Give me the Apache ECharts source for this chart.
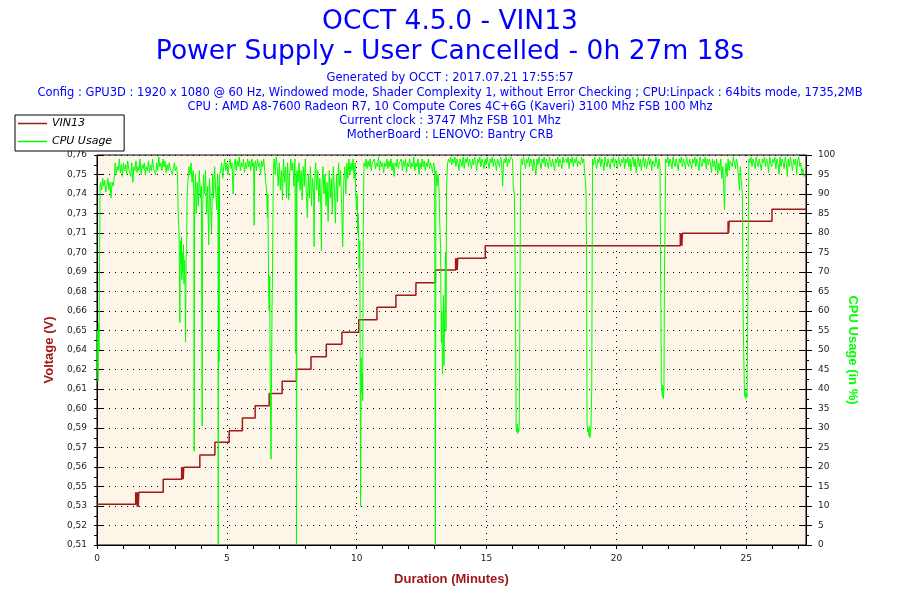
<!DOCTYPE html>
<html><head><meta charset="utf-8">
<script src="https://cdn.jsdelivr.net/npm/echarts@6/dist/echarts.min.js"></script>
<style>html,body{margin:0;padding:0;background:#fff}#c{width:900px;height:600px}</style>
</head><body><div id="c"></div>
<script>
// ---- texts ----
const mainTitle = 'OCCT 4.5.0 - VIN13';
const subTitle = 'Power Supply - User Cancelled - 0h 27m 18s';
const infoLines = [
  'Generated by OCCT : 2017.07.21 17:55:57',
  'Config : GPU3D : 1920 x 1080 @ 60 Hz, Windowed mode, Shader Complexity 1, without Error Checking ; CPU:Linpack : 64bits mode, 1735,2MB',
  'CPU : AMD A8-7600 Radeon R7, 10 Compute Cores 4C+6G (Kaveri) 3100 Mhz FSB 100 Mhz',
  'Current clock : 3747 Mhz FSB 101 Mhz',
  'MotherBoard : LENOVO: Bantry CRB'
];
const seriesNames = ['VIN13', 'CPU Usage'];
const xTickLabels = [0, 5, 10, 15, 20, 25];
const durationMax = 27.3;           // minutes
const voltMin = 0.5088, voltMax = 0.7648, voltLabelStep = 0.0128;
const cpuMin = 0, cpuMax = 100, cpuStep = 5;

// ---- VIN13 (minutes, volts), step series: level starts at t ----
const vin13 = [
  [0, 0.5355],
  [1.49, 0.5434], [1.51, 0.5355], [1.53, 0.5434], [1.55, 0.5340], [1.57, 0.5434], [1.59, 0.5340], [1.61, 0.5434],
  [2.55, 0.5519],
  [3.26, 0.5598], [3.28, 0.5519], [3.30, 0.5598], [3.32, 0.5519], [3.34, 0.5598],
  [3.96, 0.5679],
  [4.54, 0.5762],
  [5.09, 0.5838],
  [5.60, 0.5922],
  [6.09, 0.6002],
  [6.63, 0.6082],
  [7.13, 0.6163],
  [7.68, 0.6241],
  [8.24, 0.6324],
  [8.83, 0.6405],
  [9.43, 0.6484],
  [10.08, 0.6567],
  [10.78, 0.6648],
  [11.51, 0.6727],
  [12.28, 0.6810],
  [13.03, 0.6893],
  [13.81, 0.6970], [13.83, 0.6893], [13.85, 0.6970], [13.87, 0.6893], [13.89, 0.6970],
  [14.95, 0.7053],
  [22.46, 0.7134], [22.48, 0.7053], [22.50, 0.7134], [22.52, 0.7053], [22.54, 0.7134],
  [24.30, 0.7213], [24.32, 0.7134], [24.34, 0.7213],
  [25.99, 0.7292],
  [27.3, 0.7292]
];

// ---- CPU usage (minutes, %) ----
const cpuUsage = [
  [0,45],[0.02,55],[0.04,42],[0.06,57],[0.08,50],[0.1,75],[0.12,92],
  [0.14,93],[0.18,91],[0.22,94],[0.26,92],[0.3,93.5],[0.34,90.5],[0.38,92],[0.42,94],[0.46,91],[0.5,93],[0.54,89],[0.58,93],[0.62,92],[0.66,94],
  [0.7,98],[0.74,95],[0.78,97],[0.82,96],[0.86,99],[0.9,95.5],[0.94,97.5],[0.98,94.5],[1.02,98],[1.06,96],[1.1,97.5],[1.14,95],[1.18,98.5],[1.22,96.5],[1.26,97],[1.3,94.5],[1.34,98],[1.38,93],[1.42,97],[1.46,96],[1.5,98.5],[1.54,95.5],[1.58,97],[1.62,96],[1.66,99],[1.7,95],[1.74,97.5],[1.78,96.5],[1.82,98],[1.86,95],[1.9,97],[1.94,96],[1.98,98.5],[2.02,95.5],[2.06,97.5],[2.1,96],[2.14,99],[2.18,96.5],[2.22,97],[2.26,95],[2.3,98],[2.34,96],[2.38,99.5],[2.42,97],[2.46,98],[2.5,96],[2.54,99],[2.58,97],[2.62,98.5],[2.66,95.5],[2.7,97.5],[2.74,96],[2.78,98],[2.82,96.5],[2.86,97],[2.9,95],[2.94,96.5],[2.98,98],[3.02,96],[3.06,97],
  [3.1,95],[3.13,84],[3.16,80],[3.19,57],[3.21,78],[3.23,72],[3.25,79],[3.27,68],[3.29,75],[3.31,70],[3.33,77],[3.35,67],[3.37,73],[3.39,69],[3.41,52],[3.43,74],[3.45,76],[3.47,90],[3.5,93],[3.54,97],
  [3.58,95],[3.62,98],[3.66,93],[3.7,96],[3.73,90],[3.74,24],[3.76,88],[3.79,95],[3.82,85],[3.86,93],[3.9,87],[3.94,96],[3.98,89],[4.02,92],[4.05,30.5],[4.07,86],[4.1,95],
  [4.14,90],[4.18,96],[4.22,85],[4.26,92],[4.3,77],[4.33,94],[4.37,88],[4.41,80],[4.45,95],[4.49,89],[4.53,97],[4.57,91],[4.61,86],[4.64,95],[4.66,92],[4.67,0],[4.685,92],[4.7,47],[4.72,95],
  [4.76,96],[4.8,98],[4.84,94],[4.88,97],[4.92,99],[4.96,96],[5.0,98],[5.04,95],[5.08,97.5],[5.12,99],[5.16,96.5],[5.2,98],[5.24,90],[5.28,97],[5.32,99],[5.36,96],[5.4,98.5],[5.44,97],[5.48,99.5],[5.52,96],[5.56,98],[5.6,97],[5.64,99],[5.68,95.5],[5.72,98],[5.76,96.5],[5.8,99],[5.84,97],[5.88,98.5],[5.92,96],[5.96,99],[6.0,97],[6.03,98],[6.05,82],[6.07,97],[6.1,98.5],[6.14,96],[6.18,99],[6.22,97],[6.26,98],[6.3,95],[6.34,98.5],[6.38,97],[6.42,99],[6.46,96],[6.5,93],
  [6.53,91],[6.56,84],[6.58,90],[6.61,65],[6.63,60],[6.65,69],[6.67,42],[6.7,22],[6.72,43],[6.74,61],[6.76,71],[6.79,96],
  [6.82,99],[6.86,95],[6.9,99.5],[6.94,97],[6.98,92],[7.02,98],[7.06,91],[7.1,96],[7.14,88.5],[7.18,99],[7.22,93],[7.26,97],[7.3,89],[7.34,98],[7.38,88.5],[7.42,95],[7.46,99],[7.5,96],[7.54,98],[7.58,92],[7.62,99],[7.66,49],[7.67,95],[7.68,0],[7.7,96],
  [7.74,93],[7.78,98],[7.82,91],[7.86,96],[7.9,88.5],[7.94,97],[7.98,92],[8.02,99],[8.06,90],[8.1,84],[8.14,95],[8.18,89],[8.22,97],[8.26,87],[8.3,94],[8.34,90],[8.36,76.5],[8.38,93],[8.42,98],[8.46,91],[8.5,96],[8.54,88],[8.58,94],[8.62,86],[8.64,75.5],[8.66,92],[8.7,97],[8.74,90],[8.78,95],[8.82,87],[8.86,93],[8.9,83],[8.94,96],[8.98,89],[9.02,94],[9.06,85],[9.1,97],[9.14,91],[9.18,82.5],[9.22,95],[9.26,88],[9.3,98],[9.34,92],[9.38,96],[9.42,87],[9.46,76.5],[9.5,93],[9.54,97],[9.58,90],[9.62,98],[9.66,94],[9.7,99],[9.74,95],[9.78,98],[9.82,96],[9.86,99],[9.9,94],
  [9.94,98],[9.96,91],[9.99,86],[10.02,90],[10.04,80],[10.06,85],[10.09,71],[10.12,78],[10.15,10],[10.17,48],[10.19,39],[10.21,44],[10.23,37],[10.25,78],[10.28,98],
  [10.32,97],[10.36,99],[10.4,96.5],[10.44,98.5],[10.48,97],[10.52,99],[10.56,96],[10.6,98],[10.64,97.5],[10.68,99],[10.72,96.5],[10.76,98],[10.8,97],[10.84,99.5],[10.88,96],[10.92,98.5],[10.96,97],[11.0,98],[11.04,95.5],[11.08,98],[11.12,97],[11.16,99],[11.2,96.5],[11.24,98.5],[11.28,97],[11.32,99],[11.36,96],[11.4,98],[11.44,94.5],[11.48,98],[11.52,97],[11.56,99],[11.6,96.5],[11.64,98],[11.68,97.5],[11.72,99],[11.76,96],[11.8,98.5],[11.84,97],[11.88,99],[11.92,95.5],[11.96,98],[12.0,97],[12.04,99],[12.08,96.5],[12.12,98],[12.16,97],[12.2,99.5],[12.24,96],[12.28,98],[12.32,97],[12.36,99],[12.4,95],[12.44,98],[12.48,96.5],[12.52,99],[12.56,97],[12.6,98.5],[12.64,96],[12.68,98],[12.72,97],[12.76,99],[12.8,96.5],[12.84,98],[12.88,97],[12.92,95.5],[12.96,98],[13.0,97],
  [13.02,97],[13.03,0],[13.05,96],[13.09,92],[13.13,95],[13.17,91],[13.2,82],[13.23,76],[13.26,52],[13.28,60],[13.3,44],[13.32,50],[13.34,64],[13.36,46],[13.38,56],[13.4,62],[13.42,75],[13.44,55],[13.46,92],[13.5,98],
  [13.54,99],[13.58,98],[13.62,99.5],[13.66,97.5],[13.7,99],[13.74,98],[13.78,99.5],[13.82,97],[13.86,99],[13.9,98],[13.94,96],[13.98,99],[14.02,98.5],[14.06,97],[14.1,99.5],[14.14,96.5],[14.18,99],[14.22,98],[14.26,99.5],[14.3,97],[14.34,99],[14.38,98],[14.42,96.5],[14.46,99],[14.5,97.5],[14.54,99.5],[14.58,98],[14.62,96],[14.66,99],[14.7,98],[14.74,99.5],[14.78,97],[14.82,99],[14.86,98],[14.9,96.5],[14.94,99],[14.98,97.5],[15.02,99.5],[15.06,98],[15.1,96.5],[15.14,99],[15.18,98],[15.22,99.5],[15.26,97],[15.3,99],[15.34,98],[15.38,96],[15.42,99],[15.46,98.5],[15.5,97],[15.54,99.5],[15.58,98],[15.62,92],[15.65,97.5],[15.68,99],[15.72,98],[15.76,99.5],[15.8,97],[15.84,99],[15.88,98],[15.92,99.5],
  [16.0,99],[16.03,92],[16.07,90],[16.11,66],[16.14,30],[16.16,29],[16.18,31],[16.2,28.5],[16.22,30],[16.24,29],[16.26,31],[16.28,56],[16.31,96],[16.34,99],
  [16.38,97.5],[16.42,99.5],[16.46,98],[16.5,96.5],[16.54,99],[16.58,98],[16.62,99.5],[16.66,97],[16.7,99],[16.74,98],[16.78,96],[16.82,99],[16.86,98.5],[16.9,95],[16.94,99],[16.98,97.5],[17.02,99.5],[17.06,98],[17.1,96.5],[17.14,99],[17.18,98],[17.22,99.5],[17.26,97],[17.3,99],[17.34,98],[17.38,96.5],[17.42,99.5],[17.46,98],[17.5,97],[17.54,99],[17.58,98.5],[17.62,96],[17.66,99],[17.7,98],[17.74,99.5],[17.78,97],[17.82,99],[17.86,98],[17.9,96.5],[17.94,99.5],[17.98,98],[18.02,97.5],[18.06,99],[18.1,98],[18.14,99.5],[18.18,96.5],[18.22,99],[18.26,98],[18.3,99.5],[18.34,97],[18.38,99],[18.42,98],[18.46,99.5],[18.5,97],[18.54,98.5],[18.58,99],[18.62,97.5],[18.66,99.5],[18.7,98],[18.74,99],
  [18.81,99],[18.83,91],[18.85,74],[18.87,31],[18.9,29],[18.92,30],[18.94,28],[18.96,30.5],[18.98,27.5],[19.0,29],[19.02,30],[19.05,40],[19.08,99],
  [19.12,97.5],[19.16,99.5],[19.2,98],[19.24,96.5],[19.28,99],[19.32,98],[19.36,99.5],[19.4,97],[19.44,99],[19.48,98],[19.52,96],[19.56,99.5],[19.6,98],[19.64,97],[19.68,99],[19.72,98.5],[19.76,96.5],[19.8,99],[19.84,98],[19.88,99.5],[19.92,97],[19.96,99],[20.0,98],[20.04,96.5],[20.08,99.5],[20.12,98],[20.16,97],[20.2,99],[20.24,98],[20.28,99.5],[20.32,96.5],[20.36,99],[20.4,98],[20.44,99.5],[20.48,97],[20.52,99],[20.56,96],[20.6,98.5],[20.64,99.5],[20.68,97],[20.72,99],[20.76,95.5],[20.8,98],[20.84,99.5],[20.88,97],[20.92,99],[20.96,96],[21.0,98.5],[21.04,99.5],[21.08,97],[21.12,99],[21.16,96.5],[21.2,98],[21.24,99.5],[21.28,97.5],[21.32,99],[21.36,96],[21.4,98.5],[21.44,99],[21.48,97],[21.52,99.5],[21.56,98],[21.6,96.5],[21.64,99],[21.68,97],
  [21.71,97],[21.73,41.5],[21.75,40],[21.77,38],[21.79,41],[21.81,37.5],[21.83,40],[21.85,69.5],[21.87,70],[21.9,99],
  [21.94,98],[21.98,99.5],[22.02,97],[22.06,99],[22.1,98],[22.14,96.5],[22.18,99.5],[22.22,98],[22.26,97],[22.3,99],[22.34,98.5],[22.38,96],[22.42,99],[22.46,98],[22.5,99.5],[22.54,97],[22.58,99],[22.62,98],[22.66,96.5],[22.7,99.5],[22.74,98],[22.78,97],[22.82,99],[22.86,98.5],[22.9,96.5],[22.94,99],[22.98,98],[23.02,99.5],[23.06,97],[23.1,99],[23.14,98],[23.18,96],[23.22,99.5],[23.26,98],[23.3,97],[23.34,99],[23.38,98],[23.42,99.5],[23.46,96.5],[23.5,99],[23.54,97.5],[23.58,99],[23.62,98],[23.66,95.5],[23.7,99],[23.74,97],[23.78,98.5],[23.82,96],[23.86,99],[23.9,95],[23.94,98],[23.98,96],[24.02,99],[24.06,94],[24.1,97],[24.13,92],[24.16,86],[24.19,95],[24.22,98],[24.26,94.5],[24.3,99],[24.34,96],[24.38,98.5],[24.42,99],[24.46,97],[24.5,99.5],[24.54,98],[24.58,96.5],[24.62,99],[24.66,98],[24.7,94],[24.74,91],[24.77,97],[24.8,94],
  [24.82,93],[24.85,89.5],[24.88,58.5],[24.91,46.5],[24.93,39],[24.95,38],[24.97,39.5],[24.99,37.5],[25.01,39],[25.03,38],[25.05,54],[25.07,75],[25.1,99],
  [25.14,98],[25.18,99.5],[25.22,97],[25.26,99],[25.3,98],[25.34,96.5],[25.38,99.5],[25.42,98],[25.46,97],[25.5,99],[25.54,98.5],[25.58,96],[25.62,99],[25.66,98],[25.7,99.5],[25.74,97],[25.78,99],[25.82,98],[25.86,95.5],[25.9,99.5],[25.94,98],[25.98,97],[26.02,99],[26.06,98],[26.1,99.5],[26.14,96.5],[26.18,99],[26.22,98],[26.26,95],[26.3,99.5],[26.34,97],[26.38,99],[26.42,98],[26.46,96.5],[26.5,99.5],[26.54,98],[26.58,94.5],[26.62,99],[26.66,97],[26.7,99.5],[26.74,98],[26.78,96],[26.82,99],[26.86,97.5],[26.9,99],[26.94,95],[26.98,98.5],[27.02,99.5],[27.06,97],[27.1,98],[27.14,95],[27.18,96.5],[27.22,94.5],[27.26,95]
];

// ---- build chart ----
const V_UNIT = 10000; // voltage axis runs in 0.1 mV units so ticks land exactly
const vMinU = Math.round(voltMin * V_UNIT), vMaxU = Math.round(voltMax * V_UNIT);
const vLabelU = Math.round(voltLabelStep * V_UNIT), vTickU = vLabelU / 4;
const redColor = '#A01818', greenColor = '#00FF00', blue = '#0000FF';
const smallFont = 'DejaVu Sans';

const infoTitles = infoLines.map((txt, i) => ({
  text: txt, left: 'center', top: 67 + [0, 15, 29, 43, 57][i],
  textStyle: { color: blue, fontSize: 11.5, fontWeight: 'normal', fontFamily: smallFont }
}));

const option = {
  animation: false,
  backgroundColor: '#ffffff',
  title: [
    { text: mainTitle, left: 'center', top: 4, textStyle: { color: blue, fontSize: 26.5, fontWeight: 'normal', fontFamily: 'DejaVu Sans' } },
    { text: subTitle, left: 'center', top: 34, textStyle: { color: blue, fontSize: 26.5, fontWeight: 'normal', fontFamily: 'DejaVu Sans' } }
  ].concat(infoTitles),
  legend: {
    data: seriesNames, orient: 'vertical', left: 15, top: 115, z: 20,
    backgroundColor: '#ffffff', borderColor: '#000', borderWidth: 1, borderRadius: 0,
    padding: [3, 12, 4, 3], itemGap: 7, itemWidth: 29, itemHeight: 1.5, icon: 'rect',
    textStyle: { fontStyle: 'italic', fontSize: 11, fontFamily: smallFont, color: '#000' }
  },
  grid: { left: 97, right: 94, top: 155, bottom: 55, show: true, backgroundColor: '#FDF6E8', borderColor: '#000', borderWidth: 1 },
  xAxis: [
    {
      type: 'value', min: 0, max: durationMax, interval: 1, position: 'bottom',
      axisLine: { show: true, onZero: false, lineStyle: { color: '#000' } },
      axisTick: { show: true, length: 4, lineStyle: { color: '#000' } },
      axisLabel: {
        margin: 9, color: '#222', fontSize: 9, fontFamily: smallFont, showMaxLabel: false,
        formatter: v => { const r = Math.round(v); return (Math.abs(v - r) < 1e-6 && xTickLabels.indexOf(r) >= 0) ? String(r) : ''; }
      },
      splitLine: { show: false },
      name: 'Duration (Minutes)', nameLocation: 'middle', nameGap: 28,
      nameTextStyle: { color: redColor, fontWeight: 'bold', fontSize: 13, fontFamily: 'Liberation Sans' }
    },
    {
      type: 'value', min: 0, max: durationMax, interval: 5, position: 'bottom',
      axisLine: { show: false }, axisTick: { show: false }, axisLabel: { show: false },
      splitLine: { show: true, lineStyle: { color: '#000', width: 1, type: [1, 5] } }
    }
  ],
  yAxis: [
    {
      type: 'value', position: 'left', min: vMinU, max: vMaxU, interval: vTickU,
      axisLine: { show: true, onZero: false, lineStyle: { color: '#000' } },
      axisTick: { show: false }, splitLine: { show: false },
      axisLabel: {
        margin: 10, color: '#222', fontSize: 9, fontFamily: smallFont,
        formatter: v => { const k = Math.round((v - vMinU) / vTickU); return k % 4 === 0 ? (v / V_UNIT).toFixed(2).replace('.', ',') : ''; }
      },
      name: 'Voltage (V)', nameLocation: 'middle', nameGap: 40, nameRotate: 90,
      nameTextStyle: { color: redColor, fontWeight: 'bold', fontSize: 13, fontFamily: 'Liberation Sans' }
    },
    {
      type: 'value', position: 'right', min: cpuMin, max: cpuMax, interval: cpuStep,
      axisLine: { show: true, onZero: false, lineStyle: { color: '#000' } },
      axisTick: { show: true, length: 6, lineStyle: { color: '#000' } },
      minorTick: { show: true, splitNumber: 2, length: 3, lineStyle: { color: '#000' } },
      splitLine: { show: true, lineStyle: { color: '#000', width: 1, type: [1, 5] } },
      axisLabel: { margin: 12, color: '#222', fontSize: 9, fontFamily: smallFont },
      name: 'CPU Usage (in %)', nameLocation: 'middle', nameGap: 37, nameRotate: -90,
      nameTextStyle: { color: greenColor, fontWeight: 'bold', fontSize: 13, fontFamily: 'Liberation Sans' }
    },
    {
      type: 'value', position: 'left', min: cpuMin, max: cpuMax, interval: cpuStep,
      axisLine: { show: false }, axisLabel: { show: false }, splitLine: { show: false },
      axisTick: { show: true, length: 3, lineStyle: { color: '#000' } },
      minorTick: { show: true, splitNumber: 2, length: 3, lineStyle: { color: '#000' } }
    },
    {
      type: 'value', position: 'left', min: cpuMin, max: cpuMax, interval: cpuStep,
      axisLine: { show: false }, axisLabel: { show: false }, splitLine: { show: false },
      axisTick: { show: true, inside: true, length: 6, lineStyle: { color: '#000' } }
    },
    {
      type: 'value', position: 'right', min: cpuMin, max: cpuMax, interval: cpuStep,
      axisLine: { show: false }, axisLabel: { show: false }, splitLine: { show: false },
      axisTick: { show: true, inside: true, length: 7, lineStyle: { color: '#000' } }
    }
  ],
  series: [
    {
      name: seriesNames[0], type: 'line', xAxisIndex: 0, yAxisIndex: 0, step: 'end',
      showSymbol: false, symbol: 'none', z: 2,
      data: vin13.map(p => [p[0], p[1] * V_UNIT]),
      lineStyle: { color: redColor, width: 1.5 }, itemStyle: { color: redColor }
    },
    {
      name: seriesNames[1], type: 'line', xAxisIndex: 0, yAxisIndex: 1,
      showSymbol: false, symbol: 'none', z: 3,
      data: cpuUsage,
      lineStyle: { color: greenColor, width: 1 }, itemStyle: { color: greenColor }
    }
  ]
};
const chart = echarts.init(document.getElementById('c'), null, { renderer: 'canvas' });
chart.setOption(option);
</script>
</body></html>
